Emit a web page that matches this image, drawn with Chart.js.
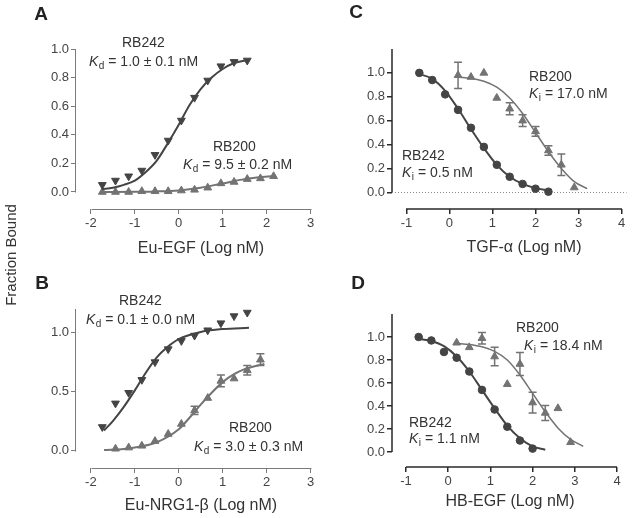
<!DOCTYPE html>
<html>
<head>
<meta charset="utf-8">
<script src="https://cdn.jsdelivr.net/npm/chart.js@4.4.1/dist/chart.umd.min.js"></script>
<style>
  html, body { margin: 0; padding: 0; background: #fff; }
  #wrap { position: relative; width: 632px; height: 518px; overflow: hidden; }
  #wrap canvas { position: absolute; }
  #yTitle {
    position: absolute; left: -53px; top: 245px; width: 130px; height: 20px;
    line-height: 20px; text-align: center; transform: rotate(-90deg);
    font: 15px "Liberation Sans", Arial, sans-serif; color: #333; z-index: 2;
  }
</style>
</head>
<body>
<div id="wrap">
  <canvas id="panelA" width="316" height="259" style="left:0;top:0"></canvas>
  <canvas id="panelB" width="316" height="259" style="left:0;top:259px"></canvas>
  <canvas id="panelC" width="316" height="259" style="left:316px;top:0"></canvas>
  <canvas id="panelD" width="316" height="259" style="left:316px;top:259px"></canvas>
  <div id="yTitle">Fraction Bound</div>
</div>
<script>
// --- A: Eu-EGF saturation binding
const aX242 = [-1.74, -1.44, -1.14, -0.84, -0.54, -0.24, 0.06, 0.36, 0.66, 0.96, 1.26, 1.56];
const aY242 = [0.05, 0.08, 0.11, 0.15, 0.26, 0.36, 0.50, 0.66, 0.78, 0.88, 0.91, 0.92];
const aX200 = [-1.74, -1.44, -1.14, -0.84, -0.54, -0.24, 0.06, 0.36, 0.66, 0.96, 1.26, 1.56, 1.86, 2.16];
const aY200 = [0.0, 0.0, 0.0, 0.005, 0.005, 0.005, 0.01, 0.015, 0.03, 0.06, 0.07, 0.09, 0.095, 0.11];
const aFitX242 = [-1.75, -1.5, -1.25, -1, -0.75, -0.5, -0.25, 0, 0.25, 0.5, 0.75, 1, 1.25, 1.6];
const aFitY242 = [0.02, 0.03, 0.05, 0.08, 0.14, 0.22, 0.34, 0.47, 0.61, 0.72, 0.80, 0.86, 0.90, 0.925];
const aFitX200 = [-1.75, -1, -0.5, 0, 0.5, 1, 1.5, 2.2];
const aFitY200 = [0.0, 0.002, 0.004, 0.011, 0.03, 0.06, 0.09, 0.113];

// --- B: Eu-NRG1-beta saturation binding
const bX242 = [-1.74, -1.44, -1.14, -0.84, -0.54, -0.24, 0.06, 0.36, 0.66, 0.96, 1.26, 1.56];
const bY242 = [0.20, 0.40, 0.49, 0.60, 0.75, 0.86, 0.93, 0.975, 1.02, 1.08, 1.14, 1.17];
const bX200 = [-1.44, -1.14, -0.84, -0.54, -0.24, 0.06, 0.36, 0.66, 0.96, 1.26, 1.56, 1.86];
const bY200 = [0.015, 0.025, 0.04, 0.08, 0.14, 0.225, 0.34, 0.445, 0.59, 0.61, 0.68, 0.77];
const bErr200 = [0, 0, 0, 0, 0, 0, 0.035, 0, 0.05, 0, 0.04, 0.05];
const bFitX242 = [-1.7, -1.5, -1.25, -1, -0.75, -0.5, -0.25, 0, 0.5, 1, 1.6];
const bFitY242 = [0.17, 0.25, 0.37, 0.51, 0.66, 0.79, 0.88, 0.945, 1.005, 1.03, 1.04];
const bFitX200 = [-1.7, -1.25, -1, -0.5, 0, 0.25, 0.5, 0.75, 1, 1.25, 1.5, 1.95];
const bFitY200 = [0.005, 0.014, 0.025, 0.07, 0.18, 0.28, 0.39, 0.49, 0.58, 0.645, 0.69, 0.735];

// --- C: TGF-alpha competition
const cX242 = [-0.7, -0.4, -0.1, 0.2, 0.5, 0.8, 1.1, 1.4, 1.7, 2.0, 2.3];
const cY242 = [1.0, 0.94, 0.82, 0.69, 0.54, 0.38, 0.23, 0.13, 0.07, 0.03, 0.005];
const cX200 = [0.2, 0.5, 0.8, 1.1, 1.4, 1.7, 2.0, 2.3, 2.6, 2.9];
const cY200 = [0.98, 0.965, 1.0, 0.79, 0.70, 0.60, 0.51, 0.35, 0.23, 0.04];
const cErr200 = [0.11, 0, 0, 0, 0.05, 0.05, 0.04, 0.04, 0.09, 0];
const cFitX242 = [-0.7, -0.4, -0.1, 0.2, 0.5, 0.8, 1.1, 1.4, 1.7, 2.0, 2.3];
const cFitY242 = [0.99, 0.95, 0.85, 0.70, 0.53, 0.37, 0.23, 0.13, 0.07, 0.035, 0.015];
const cFitX200 = [0.2, 0.5, 0.8, 1.1, 1.4, 1.7, 2.0, 2.3, 2.6, 2.9, 3.2];
const cFitY200 = [0.965, 0.955, 0.93, 0.88, 0.79, 0.66, 0.50, 0.34, 0.20, 0.09, 0.03];

// --- D: HB-EGF competition
const dX242 = [-0.7, -0.4, -0.1, 0.2, 0.5, 0.8, 1.1, 1.4, 1.7, 2.0];
const dY242 = [1.0, 0.97, 0.87, 0.82, 0.70, 0.54, 0.37, 0.22, 0.10, 0.03];
const dX200 = [0.2, 0.5, 0.8, 1.1, 1.4, 1.7, 2.0, 2.3, 2.6, 2.9];
const dY200 = [0.95, 0.91, 0.99, 0.83, 0.59, 0.765, 0.43, 0.34, 0.38, 0.085];
const dErr200 = [0, 0, 0.05, 0.08, 0, 0.10, 0.09, 0.065, 0, 0];
const dFitX242 = [-0.7, -0.4, -0.1, 0.2, 0.5, 0.8, 1.1, 1.4, 1.7, 2.0, 2.3];
const dFitY242 = [0.985, 0.965, 0.92, 0.83, 0.70, 0.54, 0.38, 0.23, 0.12, 0.05, 0.02];
const dFitX200 = [0.2, 0.5, 0.8, 1.1, 1.4, 1.7, 2.0, 2.3, 2.6, 2.9, 3.2];
const dFitY200 = [0.945, 0.935, 0.915, 0.875, 0.80, 0.67, 0.51, 0.35, 0.21, 0.11, 0.05];

// tick labels
const xTicksAB = [-2, -1, 0, 1, 2, 3];
const xTicksCD = [-1, 0, 1, 2, 3, 4];
const yTicksA = [0, 0.2, 0.4, 0.6, 0.8, 1.0];
const yTicksB = [0, 0.5, 1.0];
const yTicksCD = [0, 0.2, 0.4, 0.6, 0.8, 1.0];

const DARK = '#444444';
const GRAY = '#737373';
const FONT = '"Liberation Sans", Arial, sans-serif';

const zip = (xs, ys) => xs.map((x, i) => ({ x: x, y: ys[i] }));

// axis lines, error bars, labels and panel letters
const decor = {
    id: 'decor',
    beforeDatasetsDraw(chart, args, o) {
        const { ctx, chartArea } = chart;
        const xs = chart.scales.x, ys = chart.scales.y;
        if (o.zeroLine) {
            ctx.save();
            ctx.strokeStyle = '#888';
            ctx.lineWidth = 1;
            ctx.setLineDash([1, 2]);
            const y0 = Math.round(ys.getPixelForValue(0)) + 0.5;
            ctx.beginPath();
            ctx.moveTo(chartArea.left, y0);
            ctx.lineTo(chartArea.right, y0);
            ctx.stroke();
            ctx.restore();
        }
    },
    afterDraw(chart, args, o) {
        const { ctx, chartArea } = chart;
        const xs = chart.scales.x, ys = chart.scales.y;
        ctx.save();
        // axes
        ctx.strokeStyle = o.axisColor;
        ctx.lineWidth = o.axisWidth;
        const off = o.axisWidth === 1 ? 0.5 : 0;
        ctx.beginPath();
        ctx.moveTo(Math.round(xs.getPixelForValue(o.xFrom)) + off, chartArea.bottom + off);
        ctx.lineTo(Math.round(xs.getPixelForValue(o.xTo)) + off, chartArea.bottom + off);
        ctx.moveTo(chartArea.left - off, Math.round(ys.getPixelForValue(0)) + off);
        ctx.lineTo(chartArea.left - off, Math.round(ys.getPixelForValue(o.yTop)));
        ctx.stroke();

        // error bars on the RB200 points
        const ds = chart.data.datasets[3];
        if (ds.errors) {
            ctx.strokeStyle = GRAY;
            ctx.lineWidth = 1.5;
            ds.data.forEach((p, i) => {
                const e = ds.errors[i];
                if (!e) return;
                const px = xs.getPixelForValue(p.x);
                const top = ys.getPixelForValue(p.y + e);
                const bot = ys.getPixelForValue(p.y - e);
                ctx.beginPath();
                ctx.moveTo(px, top); ctx.lineTo(px, bot);
                ctx.moveTo(px - 4, top); ctx.lineTo(px + 4, top);
                ctx.moveTo(px - 4, bot); ctx.lineTo(px + 4, bot);
                ctx.stroke();
            });
        }

        // annotations
        ctx.fillStyle = '#333';
        ctx.textBaseline = 'middle';
        ctx.textAlign = 'left';
        o.notes.forEach(n => {
            if (n.k) {
                ctx.font = 'italic 14px ' + FONT;
                ctx.fillText('K', n.x, n.y);
                let w = ctx.measureText('K').width + 0.5;
                ctx.font = '10px ' + FONT;
                ctx.fillText(n.k, n.x + w, n.y + 4);
                w += ctx.measureText(n.k).width;
                ctx.font = '14px ' + FONT;
                ctx.fillText(n.text, n.x + w, n.y);
            } else {
                ctx.font = '14px ' + FONT;
                ctx.fillText(n.text, n.x, n.y);
            }
        });

        // x axis title
        ctx.textAlign = 'center';
        ctx.font = '16px ' + FONT;
        ctx.fillText(o.xTitle, o.xTitlePos[0], o.xTitlePos[1]);

        // panel letter
        ctx.fillStyle = '#222';
        ctx.font = 'bold 19px ' + FONT;
        ctx.fillText(o.letter, o.letterPos[0], o.letterPos[1]);
        ctx.restore();
    }
};

function buildPanel(id, p) {
    const ctx = document.getElementById(id).getContext('2d');
    const tickFont = { family: FONT, size: 13 };
    return new Chart(ctx, {
        type: 'line',
        data: {
            datasets: [
                {
                    data: zip(p.fitX242, p.fitY242),
                    borderColor: DARK, borderWidth: 2, pointRadius: 0,
                    cubicInterpolationMode: 'monotone', clip: false
                },
                {
                    data: zip(p.fitX200, p.fitY200),
                    borderColor: GRAY, borderWidth: p.fitWidth200, pointRadius: 0,
                    cubicInterpolationMode: 'monotone', clip: false
                },
                {
                    data: zip(p.x242, p.y242), showLine: false,
                    pointStyle: p.style242, pointRotation: p.rot242, pointRadius: p.radius242,
                    backgroundColor: DARK, borderColor: DARK, borderWidth: 1, clip: false
                },
                {
                    data: zip(p.x200, p.y200), showLine: false, errors: p.err200,
                    pointStyle: 'triangle', pointRadius: 4.5,
                    backgroundColor: GRAY, borderColor: GRAY, borderWidth: 1, clip: false
                }
            ]
        },
        options: {
            responsive: false,
            animation: false,
            events: [],
            layout: { padding: { left: 0, top: p.top, right: p.right, bottom: 0 } },
            plugins: {
                legend: { display: false },
                tooltip: { enabled: false },
                decor: p.decor
            },
            scales: {
                x: {
                    type: 'linear', min: p.xMin, max: p.xMax, bounds: 'data',
                    afterBuildTicks: s => { s.ticks = p.xTicks.map(v => ({ value: v })); },
                    afterFit: s => {
                        s.paddingLeft = s.paddingRight = s.paddingTop = s.paddingBottom = 0;
                        s.height = 259 - p.bottom;
                    },
                    border: { display: false },
                    grid: { drawOnChartArea: false, color: p.decor.axisColor, lineWidth: p.decor.axisWidth, tickLength: 5 },
                    ticks: { autoSkip: false, maxRotation: 0, padding: 2, color: '#444', font: tickFont,
                        callback: v => String(v) }
                },
                y: {
                    type: 'linear', min: p.yMin, max: p.yMax, bounds: 'data',
                    afterBuildTicks: s => { s.ticks = p.yTicks.map(v => ({ value: v })); },
                    afterFit: s => {
                        s.paddingLeft = s.paddingRight = s.paddingTop = s.paddingBottom = 0;
                        s.width = 76;
                    },
                    border: { display: false },
                    grid: { drawOnChartArea: false, color: p.decor.axisColor, lineWidth: p.decor.axisWidth, tickLength: 5 },
                    ticks: { padding: 2, color: '#444', font: tickFont,
                        callback: v => v.toFixed(1) }
                }
            }
        },
        plugins: [decor]
    });
}

document.addEventListener('DOMContentLoaded', () => {
    buildPanel('panelA', {
        x242: aX242, y242: aY242, x200: aX200, y200: aY200, err200: null,
        fitX242: aFitX242, fitY242: aFitY242, fitX200: aFitX200, fitY200: aFitY200,
        style242: 'triangle', rot242: 180, radius242: 4.5, fitWidth200: 2,
        xMin: -2.339, xMax: 3, yMin: -0.119, yMax: 1.0,
        top: 49, right: 4, bottom: 209,
        xTicks: xTicksAB, yTicks: yTicksA,
        decor: {
            axisColor: '#7a7a7a', axisWidth: 1, xFrom: -2, xTo: 3, yTop: 1.0, zeroLine: false,
            xTitle: 'Eu-EGF (Log nM)', xTitlePos: [201, 249],
            letter: 'A', letterPos: [41, 15],
            notes: [
                { x: 122, y: 43, text: 'RB242' },
                { x: 89, y: 62, k: 'd', text: ' = 1.0 \u00b1 0.1 nM' },
                { x: 213, y: 147, text: 'RB200' },
                { x: 183, y: 165, k: 'd', text: ' = 9.5 \u00b1 0.2 nM' }
            ]
        }
    });

    buildPanel('panelB', {
        x242: bX242, y242: bY242, x200: bX200, y200: bY200, err200: bErr200,
        fitX242: bFitX242, fitY242: bFitY242, fitX200: bFitX200, fitY200: bFitY200,
        style242: 'triangle', rot242: 180, radius242: 4.5, fitWidth200: 2,
        xMin: -2.339, xMax: 3, yMin: -0.148, yMax: 1.2,
        top: 50, right: 4, bottom: 209,
        xTicks: xTicksAB, yTicks: yTicksB,
        decor: {
            axisColor: '#7a7a7a', axisWidth: 1, xFrom: -2, xTo: 3, yTop: 1.2, zeroLine: false,
            xTitle: 'Eu-NRG1-\u03b2 (Log nM)', xTitlePos: [201, 247],
            letter: 'B', letterPos: [42, 25],
            notes: [
                { x: 119, y: 42, text: 'RB242' },
                { x: 86, y: 61, k: 'd', text: ' = 0.1 \u00b1 0.0 nM' },
                { x: 229, y: 169, text: 'RB200' },
                { x: 194, y: 188, k: 'd', text: ' = 3.0 \u00b1 0.3 nM' }
            ]
        }
    });

    buildPanel('panelC', {
        x242: cX242, y242: cY242, x200: cX200, y200: cY200, err200: cErr200,
        fitX242: cFitX242, fitY242: cFitY242, fitX200: cFitX200, fitY200: cFitY200,
        style242: 'circle', rot242: 0, radius242: 3.8, fitWidth200: 1.5,
        xMin: -1.335, xMax: 4.114, yMin: -0.14, yMax: 1.2,
        top: 49, right: 1, bottom: 209,
        xTicks: xTicksCD, yTicks: yTicksCD,
        decor: {
            axisColor: '#2a2a2a', axisWidth: 1.5, xFrom: -1, xTo: 4, yTop: 1.2, zeroLine: true,
            xTitle: 'TGF-\u03b1 (Log nM)', xTitlePos: [208, 248],
            letter: 'C', letterPos: [40, 13],
            notes: [
                { x: 213, y: 77, text: 'RB200' },
                { x: 213, y: 94, k: 'i', text: ' = 17.0 nM' },
                { x: 86, y: 156, text: 'RB242' },
                { x: 86, y: 173, k: 'i', text: ' = 0.5 nM' }
            ]
        }
    });

    buildPanel('panelD', {
        x242: dX242, y242: dY242, x200: dX200, y200: dY200, err200: dErr200,
        fitX242: dFitX242, fitY242: dFitY242, fitX200: dFitX200, fitY200: dFitY200,
        style242: 'circle', rot242: 0, radius242: 3.8, fitWidth200: 1.5,
        xMin: -1.332, xMax: 4, yMin: -0.13, yMax: 1.2,
        top: 55, right: 15, bottom: 208,
        xTicks: xTicksCD, yTicks: yTicksCD,
        decor: {
            axisColor: '#2a2a2a', axisWidth: 1.5, xFrom: -1, xTo: 4, yTop: 1.2, zeroLine: false,
            xTitle: 'HB-EGF (Log nM)', xTitlePos: [194, 243],
            letter: 'D', letterPos: [42, 25],
            notes: [
                { x: 200, y: 69, text: 'RB200' },
                { x: 208, y: 87, k: 'i', text: ' = 18.4 nM' },
                { x: 93, y: 164, text: 'RB242' },
                { x: 93, y: 180, k: 'i', text: ' = 1.1 nM' }
            ]
        }
    });
});
</script>
</body>
</html>
